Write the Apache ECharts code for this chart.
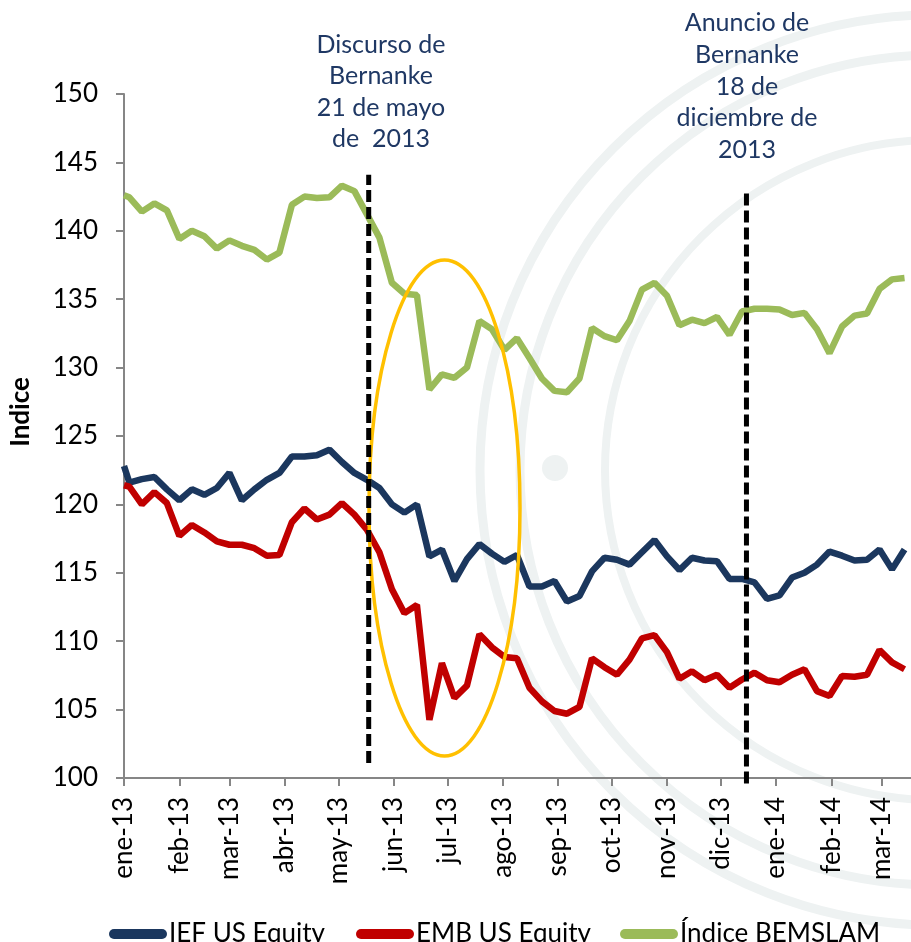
<!DOCTYPE html>
<html>
<head>
<meta charset="utf-8">
<script src="https://cdn.jsdelivr.net/npm/echarts@6/dist/echarts.min.js"></script>
<style>
  html, body { margin: 0; padding: 0; background: #fff; }
  #chart { width: 911px; height: 942px; }
</style>
</head>
<body>
<div id="chart"></div>
<script>
// fechas semanales (viernes)
const dates = [
  '2013-01-01', '2013-01-04', '2013-01-11', '2013-01-18', '2013-01-25',
  '2013-02-01', '2013-02-08', '2013-02-15', '2013-02-22',
  '2013-03-01', '2013-03-08', '2013-03-15', '2013-03-22', '2013-03-29',
  '2013-04-05', '2013-04-12', '2013-04-19', '2013-04-26',
  '2013-05-03', '2013-05-10', '2013-05-17', '2013-05-24', '2013-05-31',
  '2013-06-07', '2013-06-14', '2013-06-21', '2013-06-28',
  '2013-07-05', '2013-07-12', '2013-07-19', '2013-07-26',
  '2013-08-02', '2013-08-09', '2013-08-16', '2013-08-23', '2013-08-30',
  '2013-09-06', '2013-09-13', '2013-09-20', '2013-09-27',
  '2013-10-04', '2013-10-11', '2013-10-18', '2013-10-25',
  '2013-11-01', '2013-11-08', '2013-11-15', '2013-11-22', '2013-11-29',
  '2013-12-06', '2013-12-13', '2013-12-20', '2013-12-27',
  '2014-01-03', '2014-01-10', '2014-01-17', '2014-01-24', '2014-01-31',
  '2014-02-07', '2014-02-14', '2014-02-21', '2014-02-28',
  '2014-03-07', '2014-03-14'
]

const iefValues = [
  122.8, 121.6, 121.85, 122.0, 121.1,
  120.3, 121.1, 120.7, 121.2,
  122.3, 120.3, 121.1, 121.8, 122.3,
  123.5, 123.5, 123.6, 124.0,
  123.1, 122.3, 121.8, 121.2, 120.0,
  119.4, 120.0, 116.2, 116.7,
  114.4, 116.0, 117.1, 116.4,
  115.8, 116.3, 114.0, 114.0, 114.4,
  112.9, 113.3, 115.1, 116.1,
  115.95, 115.6, 116.5, 117.4,
  116.2, 115.2, 116.1, 115.9, 115.85,
  114.55, 114.55, 114.3, 113.1,
  113.35, 114.65, 115.0, 115.6, 116.55,
  116.25, 115.9, 115.95, 116.7,
  115.25, 116.7
]

const embValues = [
  121.4, 121.3, 120.0, 120.9, 120.1,
  117.7, 118.5, 117.95, 117.3,
  117.05, 117.05, 116.8, 116.25, 116.3,
  118.7, 119.7, 118.9, 119.25,
  120.1, 119.25, 118.15, 116.5, 113.8,
  112.05, 112.65, 104.25, 108.4,
  105.85, 106.75, 110.5, 109.55,
  108.85, 108.75, 106.6, 105.6, 104.9,
  104.7, 105.2, 108.75, 108.1,
  107.55, 108.65, 110.2, 110.45,
  109.2, 107.25, 107.8, 107.15, 107.55,
  106.6, 107.2, 107.7, 107.15,
  107.0, 107.55, 107.95, 106.35, 106.0,
  107.45, 107.4, 107.55, 109.35,
  108.45, 107.95
]

const bemslamValues = [
  142.6, 142.45, 141.4, 142.0, 141.5,
  139.4, 140.0, 139.6, 138.7,
  139.3, 138.9, 138.6, 137.9, 138.4,
  141.9, 142.5, 142.4, 142.45,
  143.3, 142.9, 141.2, 139.5, 136.2,
  135.4, 135.3, 128.4, 129.5,
  129.25, 130.0, 133.4, 132.8,
  131.3, 132.15, 130.7, 129.2, 128.3,
  128.2, 129.2, 132.9, 132.3,
  132.0, 133.4, 135.7, 136.2,
  135.25, 133.1, 133.5, 133.25, 133.7,
  132.4, 134.1, 134.3, 134.3,
  134.25, 133.85, 134.0, 132.8, 131.05,
  133.0, 133.8, 133.95, 135.75,
  136.45, 136.55
]

const monthTicks = [
  '2013-01-01', '2013-02-01', '2013-03-01', '2013-04-01', '2013-05-01', '2013-06-01',
  '2013-07-01', '2013-08-01', '2013-09-01', '2013-10-01', '2013-11-01', '2013-12-01',
  '2014-01-01', '2014-02-01', '2014-03-01'
]
const monthLabels = [
  'ene-13', 'feb-13', 'mar-13', 'abr-13', 'may-13', 'jun-13',
  'jul-13', 'ago-13', 'sep-13', 'oct-13', 'nov-13', 'dic-13',
  'ene-14', 'feb-14', 'mar-14'
]

// líneas verticales de eventos
const eventDates = ['2013-05-18', '2013-12-15 12']
const eventRanges = [[101.1, 144.1], [99.6, 142.9]]

const seriesNames = ['IEF US Equity', 'EMB US Equity', 'Índice BEMSLAM']
const colors = ['#1B375E', '#C00000', '#9BBB59']
const navy = '#1F3864'
const font = 'Lato'
const wm = '#EEF2F2'

function t(s) {
  const [d, h] = s.split(' ')
  const [y, m, dd] = d.split('-').map(Number)
  return new Date(y, m - 1, dd, h ? +h : 0).getTime()
}

const tickTimes = monthTicks.map(t)
const xMin = t('2013-01-01')
const xMax = t('2014-03-17 15')

function pairs(vals) {
  return dates.map((d, i) => [t(d), vals[i]])
}

const capsule = 'path://M5 0H53A5 5 0 0 1 53 10H5A5 5 0 0 1 5 0Z'
function legendAt(left, name) {
  return {
    left, top: 915, data: [name], icon: capsule,
    itemWidth: 58, itemHeight: 10, itemGap: 4,
    textStyle: { fontFamily: font, fontSize: 26, color: '#000', lineHeight: 28, padding: [0, 0, 0, -3] }
  }
}

const chart = echarts.init(document.getElementById('chart'))

const option = {
  backgroundColor: '#fff',
  animation: false,
  grid: { left: 124, right: 0, top: 94, bottom: 164 },
  legend: [
    legendAt(104, seriesNames[0]),
    legendAt(351, seriesNames[1]),
    legendAt(615, seriesNames[2])
  ],
  xAxis: {
    type: 'value',
    min: xMin,
    max: xMax,
    splitLine: { show: false },
    axisLine: { lineStyle: { color: '#868686', width: 2 } },
    axisTick: { customValues: tickTimes, length: 8, lineStyle: { color: '#868686', width: 2 } },
    axisLabel: {
      customValues: tickTimes,
      rotate: 90,
      margin: 19,
      padding: [10, 0, 0, 0],
      fontFamily: font,
      fontSize: 26,
      color: '#000',
      formatter: (v) => {
        const i = tickTimes.findIndex((x) => Math.abs(x - v) < 43200000)
        return i >= 0 ? monthLabels[i] : ''
      }
    }
  },
  yAxis: {
    type: 'value',
    min: 100,
    max: 150,
    interval: 5,
    splitLine: { show: false },
    axisLine: { show: true, lineStyle: { color: '#868686', width: 2 } },
    axisTick: { show: true, length: 8, lineStyle: { color: '#868686', width: 2 } },
    axisLabel: { margin: 26, fontFamily: font, fontSize: 26, color: '#000' }
  },
  graphic: [
    // marca de agua
    { type: 'circle', z: 0, silent: true, shape: { cx: 935, cy: 470, r: 455 }, style: { fill: 'none', stroke: wm, lineWidth: 9 } },
    { type: 'circle', z: 0, silent: true, shape: { cx: 935, cy: 470, r: 415 }, style: { fill: 'none', stroke: wm, lineWidth: 9 } },
    { type: 'circle', z: 0, silent: true, shape: { cx: 935, cy: 470, r: 330 }, style: { fill: 'none', stroke: wm, lineWidth: 8 } },
    { type: 'circle', z: 0, silent: true, shape: { cx: 555, cy: 468, r: 13 }, style: { fill: wm } },
    // elipse amarilla
    { type: 'ellipse', z: 50, silent: true, shape: { cx: 444.5, cy: 508, rx: 75.5, ry: 248 }, style: { fill: 'none', stroke: '#FFC000', lineWidth: 3.5 } },
    {
      type: 'text', z: 60, x: 21, y: 412, rotation: Math.PI / 2,
      style: { text: 'Indice', fontFamily: font, fontSize: 26, fontWeight: 'bold', fill: '#000', align: 'center', verticalAlign: 'middle' }
    },
    {
      type: 'text', z: 60, x: 381, y: 29,
      style: { text: 'Discurso de\nBernanke\n21 de mayo\nde  2013', fontFamily: font, fontSize: 25, lineHeight: 31.5, fill: navy, align: 'center', verticalAlign: 'top' }
    },
    {
      type: 'text', z: 60, x: 747, y: 7,
      style: { text: 'Anuncio de\nBernanke\n18 de\ndiciembre de\n2013', fontFamily: font, fontSize: 25, lineHeight: 31.8, fill: navy, align: 'center', verticalAlign: 'top' }
    }
  ],
  series: [
    ...seriesNames.map((name, k) => ({
      name,
      type: 'line',
      z: 2 + k,
      data: pairs([iefValues, embValues, bemslamValues][k]),
      symbol: 'none',
      color: colors[k],
      lineStyle: { width: 6.5, color: colors[k] }
    })),
    ...eventDates.map((d, k) => ({
      name: 'evento' + k,
      type: 'line',
      z: 70,
      silent: true,
      clip: false,
      symbol: 'none',
      data: [[t(d), eventRanges[k][0]], [t(d), eventRanges[k][1]]],
      lineStyle: { color: '#000', width: 5, type: [12, 5], cap: 'butt' }
    }))
  ]
}

chart.setOption(option)
</script>
</body>
</html>
